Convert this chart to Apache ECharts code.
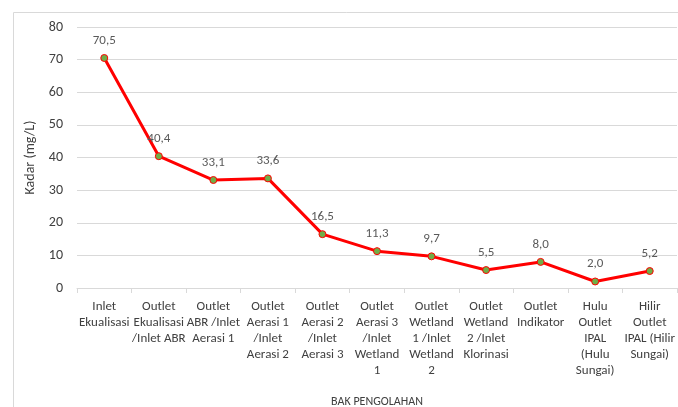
<!DOCTYPE html>
<html>
<head>
<meta charset="utf-8">
<script src="https://cdn.jsdelivr.net/npm/echarts@6/dist/echarts.min.js"></script>
<style>
html, body { margin: 0; padding: 0; background: #fff; }
#chart { width: 678px; height: 407px; }
</style>
</head>
<body>
<div id="chart"></div>
<script>
var categories = [
    'Inlet\nEkualisasi',
    'Outlet\nEkualisasi\n/Inlet ABR',
    'Outlet\nABR /Inlet\nAerasi 1',
    'Outlet\nAerasi 1\n/Inlet\nAerasi 2',
    'Outlet\nAerasi 2\n/Inlet\nAerasi 3',
    'Outlet\nAerasi 3\n/Inlet\nWetland\n1',
    'Outlet\nWetland\n1 /Inlet\nWetland\n2',
    'Outlet\nWetland\n2 /Inlet\nKlorinasi',
    'Outlet\nIndikator',
    'Hulu\nOutlet\nIPAL\n(Hulu\nSungai)',
    'Hilir\nOutlet\nIPAL (Hilir\nSungai)'
];
var kadar = [70.5, 40.4, 33.1, 33.6, 16.5, 11.3, 9.7, 5.5, 8.0, 2.0, 5.2];

var font = 'Carlito, "Open Sans", "Liberation Sans", sans-serif';
var chart = echarts.init(document.getElementById('chart'));
var option = {
    animation: false,
    textStyle: { fontFamily: font },
    graphic: [{
        type: 'rect',
        shape: { x: 13.5, y: 12.5, width: 700, height: 420 },
        style: { fill: 'none', stroke: '#d9d9d9', lineWidth: 1 },
        silent: true
    }],
    grid: { left: 77, right: 1, top: 27, bottom: 119, containLabel: false, outerBoundsMode: 'none' },
    xAxis: {
        type: 'category',
        data: categories,
        name: 'BAK PENGOLAHAN',
        nameLocation: 'middle',
        nameGap: 108,
        nameTextStyle: { fontSize: 12, color: '#404040', fontFamily: font },
        axisLine: { lineStyle: { color: '#d9d9d9' } },
        axisTick: { show: true, length: 5, lineStyle: { color: '#d9d9d9' } },
        axisLabel: {
            interval: 0, fontSize: 13, lineHeight: 16, color: '#404040',
            margin: 11, fontFamily: font
        }
    },
    yAxis: {
        type: 'value',
        min: 0, max: 80, interval: 10,
        name: 'Kadar (mg/L)',
        nameLocation: 'middle',
        nameGap: 27,
        nameTextStyle: { fontSize: 14, color: '#404040', fontFamily: font },
        axisLine: { show: false },
        axisTick: { show: false },
        splitLine: { lineStyle: { color: '#d9d9d9' } },
        axisLabel: { fontSize: 14, color: '#404040', margin: 14, fontFamily: font }
    },
    series: [{
        type: 'line',
        data: kadar,
        symbol: 'circle',
        symbolSize: 7,
        lineStyle: { color: '#ff0000', width: 3 },
        itemStyle: { color: '#70ad47', borderColor: '#ff0000', borderWidth: 1 },
        label: {
            show: true, position: 'top', distance: 7,
            fontSize: 13, color: '#595959', fontFamily: font,
            formatter: function (p) { return p.value.toFixed(1).replace('.', ','); }
        }
    }]
};
chart.setOption(option);
</script>
</body>
</html>
